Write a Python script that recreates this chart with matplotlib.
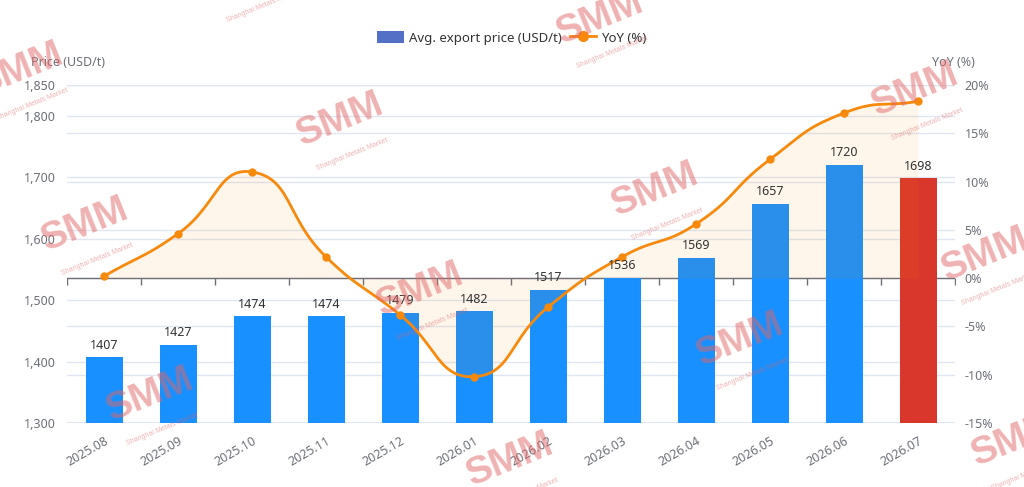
import numpy as np
import matplotlib.pyplot as plt
from matplotlib.lines import Line2D
from matplotlib.patches import Patch

plt.rcParams['font.family'] = ['Noto Sans', 'DejaVu Sans']

months = ['2025.08', '2025.09', '2025.10', '2025.11', '2025.12', '2026.01',
          '2026.02', '2026.03', '2026.04', '2026.05', '2026.06', '2026.07']
price = [1407, 1427, 1474, 1474, 1479, 1482, 1517, 1536, 1569, 1657, 1720, 1698]
yoy = [0.2, 4.6, 11.0, 2.2, -3.8, -10.2, -3.0, 2.2, 5.6, 12.3, 17.1, 18.3]

left_ticks = [1300, 1400, 1500, 1600, 1700, 1800, 1850]
right_ticks = [-15, -10, -5, 0, 5, 10, 15, 20]

BLUE = '#1890FF'
RED = '#D9372B'
ORANGE = '#F7890C'
GRID = '#E0E6F1'
AXIS = '#6E7079'
LABEL = '#6E7079'


def smooth_curve(xs, ys, yscale, smooth=0.5, n=30):
    # bezier smoothing similar to echarts line smooth
    pts = np.column_stack([np.asarray(xs, float), np.asarray(ys, float) * yscale])
    m = len(pts)
    cps = []
    for i in range(m):
        p = pts[i]
        prev = pts[i - 1] if i > 0 else p
        nxt = pts[i + 1] if i < m - 1 else p
        v = (nxt - prev) * smooth
        d0 = np.linalg.norm(p - prev)
        d1 = np.linalg.norm(nxt - p)
        s = d0 + d1
        if s == 0:
            cps.append((p, p))
            continue
        cps.append((p - v * d0 / s, p + v * d1 / s))
    out = []
    t = np.linspace(0, 1, n)[:, None]
    for i in range(m - 1):
        p0 = pts[i]
        c1 = cps[i][1]
        c2 = cps[i + 1][0]
        p3 = pts[i + 1]
        seg = ((1 - t) ** 3) * p0 + 3 * ((1 - t) ** 2) * t * c1 + 3 * (1 - t) * t ** 2 * c2 + t ** 3 * p3
        out.append(seg if i == 0 else seg[1:])
    out = np.vstack(out)
    return out[:, 0], out[:, 1] / yscale


fig = plt.figure(figsize=(10.24, 4.87), dpi=100)
ax = fig.add_axes([67 / 1024, 64 / 487, 888 / 1024, 338 / 487])
ax2 = ax.twinx()

x = np.arange(len(months))

ax.set_ylim(1300, 1850)
ax.set_xlim(-0.5, len(months) - 0.5)
ax2.set_ylim(-15, 20)

for t in left_ticks:
    ax.axhline(t, color=GRID, lw=1, zorder=0)
for t in right_ticks:
    ax.axhline(1300 + (t + 15) / 35 * 550, color=GRID, lw=1, zorder=0)

# zero line of the YoY axis with category ticks
zero_left = 1300 + 15 / 35 * 550
ax.axhline(zero_left, color=AXIS, lw=1, zorder=1)
ax.plot(np.arange(len(months) + 1) - 0.5, [zero_left] * (len(months) + 1),
        linestyle='none', marker=3, markersize=5, color=AXIS, zorder=1)

colors = [BLUE] * (len(months) - 1) + [RED]
bars = ax.bar(x, price, width=0.5, color=colors, zorder=2)

ax.set_yticks(left_ticks)
ax.set_yticklabels(['{:,}'.format(t) for t in left_ticks])
ax.set_xticks(x)
ax.set_xticklabels(months, rotation=30, ha='right', rotation_mode='anchor')
ax.tick_params(axis='both', length=0, labelsize=9, labelcolor=LABEL)
ax.tick_params(axis='x', pad=8)
ax.tick_params(axis='y', pad=8)

ax2.set_yticks(right_ticks)
ax2.set_yticklabels(['{}%'.format(t) for t in right_ticks])
ax2.tick_params(axis='y', length=0, labelsize=9, labelcolor=LABEL, pad=7)

for a in (ax, ax2):
    for s in a.spines.values():
        s.set_visible(False)
ax.axhline(1300, color=GRID, lw=1.5, zorder=1)

cx, cy = smooth_curve(x, yoy, yscale=9.68 / 74)
ax2.fill_between(cx, cy, 0, color=ORANGE, alpha=0.08, lw=0, zorder=3)
ax2.plot(cx, cy, color=ORANGE, lw=2, zorder=4)
ax2.plot(x, yoy, linestyle='none', marker='o', markersize=5, color=ORANGE, zorder=4)

for xi, v in zip(x, price):
    ax2.text(xi, v + 9, str(v), ha='center', va='bottom', fontsize=9, color='#333333',
             zorder=5, transform=ax.transData)

fig.text(31 / 1024, 1 - 62 / 487, 'Price (USD/t)', fontsize=9, color=LABEL, va='center')
fig.text(975 / 1024, 1 - 62 / 487, 'YoY (%)', fontsize=9, color=LABEL, va='center', ha='right')

handles = [Patch(facecolor='#5470C6', edgecolor='none'),
           Line2D([0], [0], color=ORANGE, lw=2, marker='o', markersize=7)]
fig.legend(handles, ['Avg. export price (USD/t)', 'YoY (%)'], loc='center',
           bbox_to_anchor=(512 / 1024, 1 - 38 / 487), ncol=2, frameon=False,
           fontsize=9.5, labelcolor='#333333', handlelength=2.0, handleheight=1.0,
           columnspacing=0.6, handletextpad=0.4)

# watermarks
marks = [(20, 70), (340, 120), (600, 18), (85, 225), (420, 290), (655, 190),
         (915, 90), (985, 255), (150, 395), (740, 340), (510, 460), (1015, 440), (250, -28)]
for mx, my in marks:
    fig.text(mx / 1024, 1 - my / 487, 'SMM', fontsize=28, fontweight='bold',
             family='Liberation Sans', color='#E06666', alpha=0.5,
             rotation=22, ha='center', va='center', zorder=10)
    fig.text((mx + 12) / 1024, 1 - (my + 34) / 487, 'Shanghai Metals Market', fontsize=5,
             family='Liberation Sans', color='#E06666', alpha=0.5,
             rotation=22, ha='center', va='center', zorder=10)

fig.savefig('out.png', dpi=100)
